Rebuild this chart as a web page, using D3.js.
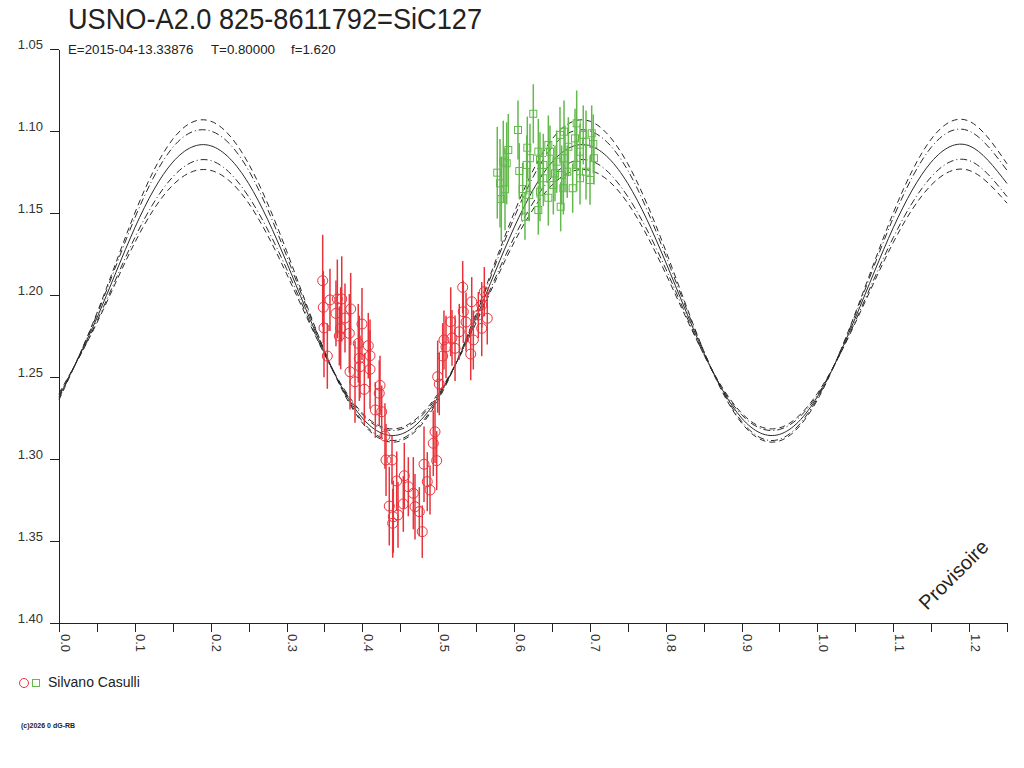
<!DOCTYPE html>
<html><head><meta charset="utf-8">
<script src="https://cdn.jsdelivr.net/npm/d3@7"></script>
<style>
html,body{margin:0;padding:0;background:#fff;}
svg{display:block;}
text{font-family:"Liberation Sans",Arial,sans-serif;}
</style>
</head><body>
<svg id="c" width="1024" height="768"></svg>
<script>
// ---------- texts ----------
const TITLE = "USNO-A2.0 825-8611792=SiC127";
const SUBTITLE = ["E=2015-04-13.33876", "T=0.80000", "f=1.620"];
const OBSERVER = "Silvano Casulli";
const COPYRIGHT = "(c)2026 0 dG-RB";
const WATERMARK = "Provisoire";

// ---------- axes ----------
const X_TICKS = [0,0.05,0.1,0.15,0.2,0.25,0.3,0.35,0.4,0.45,0.5,0.55,0.6,0.65,0.7,0.75,0.8,0.85,0.9,0.95,1.0,1.05,1.1,1.15,1.2,1.25];
const X_LABELS = ["0.0","0.1","0.2","0.3","0.4","0.5","0.6","0.7","0.8","0.9","1.0","1.1","1.2"];
const Y_TICKS = [1.05,1.10,1.15,1.20,1.25,1.30,1.35,1.40];
const Y_LABELS = ["1.05","1.10","1.15","1.20","1.25","1.30","1.35","1.40"];

// ---------- model curves (read at phases of X_TICKS) ----------
const CURVE_PHASE = [0,0.05,0.1,0.15,0.2,0.25,0.3,0.35,0.4,0.45,0.5,0.55,0.6,0.65,0.7,0.75,0.8,0.85,0.9,0.95,1.0,1.05,1.1,1.15,1.2,1.25];
const FIT     = [1.262,1.214,1.159,1.119,1.109,1.132,1.180,1.235,1.275,1.285,1.262,1.214,1.159,1.119,1.109,1.132,1.180,1.235,1.275,1.285,1.262,1.214,1.159,1.119,1.109,1.132];
const DASH_HI = [1.264,1.211,1.150,1.105,1.094,1.120,1.173,1.234,1.278,1.289,1.264,1.211,1.150,1.105,1.094,1.120,1.173,1.234,1.278,1.289,1.264,1.211,1.150,1.105,1.094,1.120];
const DASH_LO = [1.260,1.217,1.168,1.133,1.124,1.144,1.187,1.236,1.272,1.281,1.260,1.217,1.168,1.133,1.124,1.144,1.187,1.236,1.272,1.281,1.260,1.217,1.168,1.133,1.124,1.144];
const DOT_HI  = [1.263,1.212,1.153,1.110,1.100,1.124,1.176,1.234,1.277,1.288,1.263,1.212,1.153,1.110,1.100,1.124,1.176,1.234,1.277,1.288,1.263,1.212,1.153,1.110,1.100,1.124];
const DOT_LO  = [1.261,1.216,1.165,1.128,1.118,1.140,1.184,1.236,1.273,1.282,1.261,1.216,1.165,1.128,1.118,1.140,1.184,1.236,1.273,1.282,1.261,1.216,1.165,1.128,1.118,1.140];

// ---------- observations: red circles ----------
const RED_PHASE = [0.3477,0.3485,0.3494,0.3670,0.3728,0.3652,0.3846,0.3714,0.3696,0.3828,0.3995,0.3538,0.3946,0.4078,0.4101,0.3960,0.3837,0.3969,0.4101,0.4026,0.3903,0.4233,0.4223,0.4171,0.4255,0.4298,0.4312,0.4391,0.4453,0.4355,0.4408,0.4400,0.4553,0.4606,0.4672,0.4540,0.4694,0.4751,0.4790,0.4813,0.4856,0.4892,0.4935,0.4958,0.4980,0.4993,0.5014,0.5059,0.5076,0.5165,0.5222,0.5278,0.5323,0.5331,0.5442,0.5463,0.5429,0.5574,0.5608,0.5647,0.5574,0.5529,0.5103,0.5182,0.5367,0.4470,0.3771,0.3573];
const RED_MAG = [1.1913,1.2075,1.2201,1.2024,1.2024,1.2112,1.2085,1.2203,1.2250,1.2234,1.2177,1.2372,1.2295,1.2309,1.2370,1.2386,1.2468,1.2437,1.2453,1.2575,1.2529,1.2551,1.2599,1.2701,1.2712,1.2860,1.3006,1.3006,1.3134,1.3287,1.3352,1.3392,1.3102,1.3169,1.3209,1.3274,1.3291,1.3321,1.3443,1.3032,1.3138,1.3189,1.2904,1.2834,1.3010,1.2498,1.2543,1.2372,1.2274,1.2163,1.2325,1.2224,1.1953,1.2102,1.2041,1.2274,1.2360,1.2061,1.1980,1.2142,1.2203,1.2122,1.2317,1.2262,1.2165,1.3341,1.2140,1.2030];
const RED_ERR = [0.028,0.022,0.030,0.024,0.026,0.020,0.022,0.025,0.018,0.024,0.022,0.020,0.024,0.020,0.022,0.026,0.023,0.019,0.024,0.022,0.025,0.018,0.020,0.017,0.016,0.020,0.022,0.015,0.018,0.024,0.022,0.021,0.020,0.018,0.022,0.017,0.020,0.015,0.016,0.023,0.018,0.015,0.020,0.019,0.018,0.022,0.019,0.020,0.018,0.021,0.020,0.017,0.016,0.019,0.015,0.018,0.016,0.014,0.015,0.016,0.017,0.014,0.019,0.017,0.018,0.020,0.021,0.019];

// ---------- observations: green squares ----------
const GREEN_PHASE = [0.5779,0.6052,0.6254,0.5924,0.5858,0.5903,0.5881,0.5832,0.6069,0.6175,0.6210,0.6114,0.6167,0.6320,0.6342,0.6386,0.6452,0.6474,0.6320,0.6342,0.6452,0.6615,0.6659,0.6672,0.6702,0.6628,0.6540,0.6650,0.6826,0.6804,0.6870,0.6826,0.6773,0.6913,0.6949,0.7024,0.7045,0.7054,0.7002,0.6949,0.6870,0.6518,0.5815,0.6386,0.6562,0.6201,0.6716,0.6144,0.6606];
const GREEN_MAG = [1.1254,1.0994,1.0895,1.1116,1.1187,1.1197,1.1355,1.1415,1.1244,1.1102,1.1166,1.1354,1.1207,1.1126,1.1177,1.1207,1.1085,1.1126,1.1482,1.1370,1.1407,1.1462,1.1004,1.1166,1.1248,1.1268,1.1258,1.1349,1.0953,1.1045,1.1126,1.1207,1.1349,1.1024,1.1065,1.1014,1.1079,1.1166,1.1299,1.1248,1.1288,1.1329,1.1319,1.1288,1.1187,1.1390,1.1096,1.1523,1.1024];
const GREEN_ERR = [0.028,0.018,0.018,0.022,0.025,0.025,0.025,0.026,0.017,0.019,0.021,0.016,0.018,0.020,0.017,0.019,0.018,0.016,0.015,0.018,0.017,0.015,0.019,0.020,0.016,0.018,0.017,0.016,0.020,0.018,0.017,0.016,0.015,0.018,0.019,0.017,0.018,0.016,0.015,0.017,0.016,0.018,0.027,0.017,0.019,0.016,0.018,0.014,0.017];

const RED = "#e8333b", GREEN = "#63b94c", INK = "#222";

// ---------- drawing ----------
const svg = d3.select("#c");
svg.append("rect").attr("width",1024).attr("height",768).attr("fill","#fff");

const x = d3.scaleLinear().domain([0, 1.25]).range([59, 1007]);
const y = d3.scaleLinear().domain([1.05, 1.40]).range([49, 623]);

// title & subtitle
svg.append("text").attr("x",68).attr("y",29).attr("font-size",30).attr("fill",INK)
  .attr("textLength",414).attr("lengthAdjust","spacingAndGlyphs").text(TITLE);
const subX = [68, 211, 291];
SUBTITLE.forEach((s,i)=>{
  svg.append("text").attr("x",subX[i]).attr("y",54).attr("font-size",13.3).attr("fill",INK).text(s);
});

// axes
const xAxis = d3.axisBottom(x).tickValues(X_TICKS).tickSize(9).tickSizeOuter(0)
  .tickFormat((d,i)=> i%2===0 ? X_LABELS[i/2] : "");
const gx = svg.append("g").attr("transform","translate(0,623)").call(xAxis);
gx.selectAll("text").attr("x",0).attr("y",0).attr("dy",0)
  .attr("transform","translate(1,11) rotate(90)").style("text-anchor","start")
  .attr("font-size",13).attr("font-family","Liberation Sans, Arial, sans-serif").attr("fill","#333");

const yAxis = d3.axisLeft(y).tickValues(Y_TICKS).tickSize(9).tickSizeOuter(0)
  .tickFormat((d,i)=> Y_LABELS[i]);
const gy = svg.append("g").attr("transform","translate(59,0)").call(yAxis);
gy.selectAll("text").attr("x",-16).attr("dy",0).attr("y",-1)
  .attr("font-size",13).attr("font-family","Liberation Sans, Arial, sans-serif").attr("fill","#333");

[gx, gy].forEach(g=>{
  g.selectAll("path,line").attr("stroke",INK).attr("stroke-width",1).attr("shape-rendering","crispEdges");
});
// extend x axis line to the left to meet the y tick
svg.append("line").attr("x1",50).attr("x2",59).attr("y1",623.5).attr("y2",623.5).attr("stroke",INK);

// model curves
const mk = arr => d3.line().curve(d3.curveNatural)
  .x((d,i)=>x(CURVE_PHASE[i])).y(d=>y(d))(arr);
const curveG = svg.append("g").attr("fill","none").attr("stroke","#2a2a2a").attr("stroke-width",1);
curveG.append("path").attr("d",mk(DASH_HI)).attr("stroke-dasharray","6,4");
curveG.append("path").attr("d",mk(DASH_LO)).attr("stroke-dasharray","6,4");
curveG.append("path").attr("d",mk(DOT_HI)).attr("stroke-dasharray","7,3,1,3");
curveG.append("path").attr("d",mk(DOT_LO)).attr("stroke-dasharray","7,3,1,3");
curveG.append("path").attr("d",mk(FIT));

// red observations
const red = RED_PHASE.map((p,i)=>({p, m:RED_MAG[i], e:RED_ERR[i]}));
const rg = svg.append("g");
rg.selectAll("line").data(red).join("line")
  .attr("x1",d=>x(d.p)).attr("x2",d=>x(d.p))
  .attr("y1",d=>y(d.m-d.e)).attr("y2",d=>y(d.m+d.e))
  .attr("stroke",RED).attr("stroke-width",1.5);
rg.selectAll("circle").data(red).join("circle")
  .attr("cx",d=>x(d.p)).attr("cy",d=>y(d.m)).attr("r",5)
  .attr("fill","none").attr("stroke",RED).attr("stroke-width",1);

// green observations
const green = GREEN_PHASE.map((p,i)=>({p, m:GREEN_MAG[i], e:GREEN_ERR[i]}));
const gg = svg.append("g");
gg.selectAll("line").data(green).join("line")
  .attr("x1",d=>x(d.p)).attr("x2",d=>x(d.p))
  .attr("y1",d=>y(d.m-d.e)).attr("y2",d=>y(d.m+d.e))
  .attr("stroke",GREEN).attr("stroke-width",1.5);
gg.selectAll("rect").data(green).join("rect")
  .attr("x",d=>x(d.p)-3.5).attr("y",d=>y(d.m)-3.5).attr("width",7).attr("height",7)
  .attr("fill","none").attr("stroke",GREEN).attr("stroke-width",1);

// watermark
svg.append("text").attr("transform","translate(927,611) rotate(-45)")
  .attr("font-size",20).attr("fill",INK).text(WATERMARK);

// legend
svg.append("circle").attr("cx",24).attr("cy",683).attr("r",4.5).attr("fill","none").attr("stroke",RED);
svg.append("rect").attr("x",32.5).attr("y",679.5).attr("width",7).attr("height",7).attr("fill","none").attr("stroke",GREEN);
svg.append("text").attr("x",48).attr("y",687).attr("font-size",14).attr("fill",INK).text(OBSERVER);

// copyright
svg.append("text").attr("x",21).attr("y",728).attr("font-size",7).attr("font-weight","bold")
  .attr("fill",INK).text(COPYRIGHT);
</script>
</body></html>
